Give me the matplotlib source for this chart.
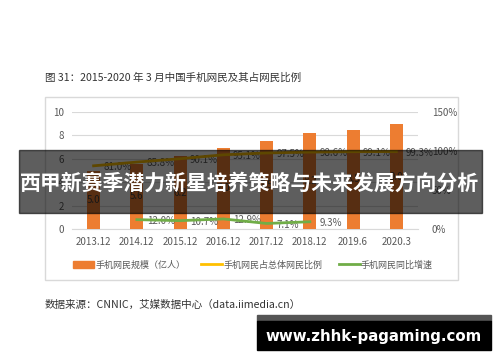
import matplotlib
matplotlib.use("Agg")
import matplotlib.pyplot as plt
from matplotlib.patches import Rectangle, Patch
from matplotlib.lines import Line2D

plt.rcParams['font.family'] = ['Noto Sans CJK SC', 'DejaVu Sans']

# data
periods = ['2013.12', '2014.12', '2015.12', '2016.12', '2017.12', '2018.12', '2019.6', '2020.3']
users = [5.0, 5.57, 6.2, 6.95, 7.53, 8.17, 8.47, 8.97]
share = [81.0, 85.8, 90.1, 95.1, 97.5, 98.6, 99.1, 99.3]
growth_idx = [1, 2, 3, 4, 5]
growth = [12.0, 10.7, 12.9, 7.1, 9.3]
left_ticks = [0, 2, 4, 6, 8, 10]
right_ticks = [0, 50, 100, 150]

orange = '#ED7D31'
gold = '#FFC000'
green = '#70AD47'
grey = '#595959'

W, H = 500, 362
fig = plt.figure(figsize=(5, 3.62), dpi=100)
fig.patch.set_facecolor('white')

def fx(px):
    return px / W

def fy(py):
    return 1 - py / H

# title and chart frame
fig.text(fx(45), fy(78), '图 31：2015-2020 年 3 月中国手机网民及其占网民比例',
         fontsize=7.6, color='#333333', va='center', ha='left')
fig.patches.append(Rectangle((fx(45), fy(280)), fx(413), (280 - 97) / H,
                             transform=fig.transFigure, fill=False,
                             edgecolor='#d9d9d9', lw=1))

ax = fig.add_axes([fx(72), fy(229), fx(346), (229 - 112) / H])
x = list(range(len(periods)))
bars = ax.bar(x, users, width=0.3, color=orange, zorder=3)
for i, v in enumerate(users):
    ax.text(i, v / 2, f'{v:.1f}', ha='center', va='center', fontsize=7, color='#404040', zorder=4)

ax.set_ylim(0, 10)
ax.set_xlim(-0.5, len(periods) - 0.5)
ax.set_yticks(left_ticks)
ax.set_xticks(x)
ax.set_xticklabels(periods)
ax.tick_params(length=0, labelsize=7, colors=grey, pad=6)
ax.grid(axis='y', color='#d9d9d9', lw=0.8, zorder=0)
for s in ['top', 'right', 'left']:
    ax.spines[s].set_visible(False)
ax.spines['bottom'].set_color('#d9d9d9')

ax2 = ax.twinx()
ax2.set_ylim(0, 150)
ax2.set_yticks(right_ticks)
ax2.set_yticklabels([f'{t}%' for t in right_ticks])
ax2.tick_params(length=0, labelsize=7, colors=grey, pad=10)
for s in ax2.spines.values():
    s.set_visible(False)
ax2.plot(x, share, color=gold, lw=2, zorder=5)
for i, v in enumerate(share):
    ax2.annotate(f'{v:.1f}%', (i, v), xytext=(7, -1), textcoords='offset points',
                 ha='left', va='center', fontsize=7, color=grey)
ax2.plot(growth_idx, growth, color=green, lw=2, zorder=5)
for i, v in zip(growth_idx, growth):
    ax2.annotate(f'{v:.1f}%', (i, v), xytext=(7, -1), textcoords='offset points',
                 ha='left', va='center', fontsize=7, color=grey)

handles = [Patch(color=orange), Line2D([], [], color=gold, lw=2), Line2D([], [], color=green, lw=2)]
labels = ['手机网民规模（亿人）', '手机网民占总体网民比例', '手机网民同比增速']
fig.legend(handles, labels, loc='center', bbox_to_anchor=(fx(253), fy(265)), ncol=3,
           frameon=False, fontsize=6.5, labelcolor=grey, handlelength=2.3,
           handletextpad=0.15, columnspacing=1.8)

fig.text(fx(45), fy(305), '数据来源：CNNIC，艾媒数据中心（data.iimedia.cn）',
         fontsize=7.6, color='#333333', va='center', ha='left')

# overlay banner
fig.patches.append(Rectangle((fx(19), fy(213)), fx(463), (213 - 150) / H,
                             transform=fig.transFigure, color='black', alpha=0.63, zorder=10))
fig.text(fx(250), fy(183), '西甲新赛季潜力新星培养策略与未来发展方向分析',
         fontsize=15, fontweight='bold', color='white', ha='center', va='center', zorder=11)

# watermark box
fig.patches.append(Rectangle((fx(257), fy(321)), fx(234), 6 / H,
                             transform=fig.transFigure, color='#555555', zorder=10))
fig.patches.append(Rectangle((fx(257), fy(350)), fx(234), 29 / H,
                             transform=fig.transFigure, color='black', zorder=10))
fig.text(fx(374), fy(336), 'www.zhhk-pagaming.com', fontsize=10.8, fontweight='bold',
         color='white', ha='center', va='center', zorder=11, family=['DejaVu Sans'])

fig.savefig('out.png', dpi=100)
